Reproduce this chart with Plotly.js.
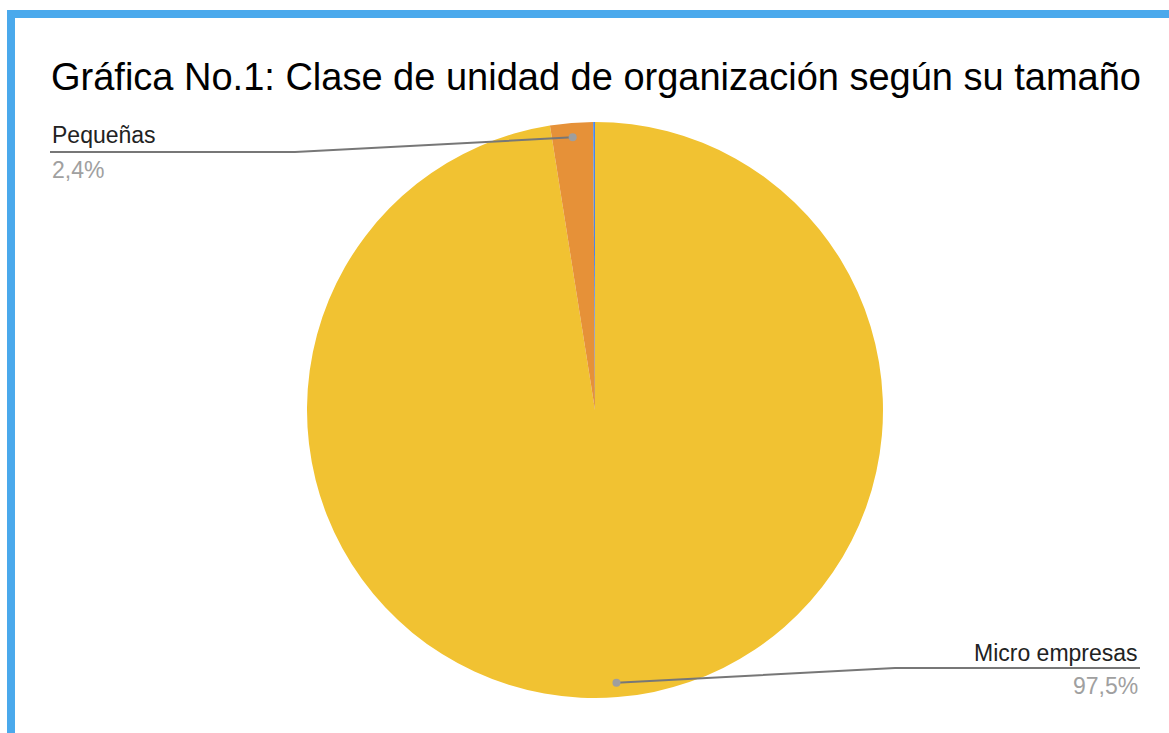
<!DOCTYPE html>
<html>
<head>
<meta charset="utf-8">
<script src="https://cdn.plot.ly/plotly-3.0.1.min.js"></script>
<style>
  html, body { margin: 0; padding: 0; background: #fff; }
  #wrap { position: relative; width: 1169px; height: 733px; overflow: hidden; }
  #chart { position: absolute; left: 0; top: 0; width: 1169px; height: 733px; }
  #frame { position: absolute; left: 7px; top: 10px; width: 1200px; height: 800px;
           border-top: 8px solid #4aa9ec; border-left: 8px solid #4aa9ec; pointer-events: none; }
</style>
</head>
<body>
<div id="wrap">
  <div id="chart"></div>
  <div id="frame"></div>
</div>
<script>
// ---- data ----
const categories = ["Micro empresas", "Pequeñas", "Medianas"];
const values = [97.5, 2.4, 0.1];
const percentLabels = ["97,5%", "2,4%", ""];
const sliceColors = ["#f1c232", "#e69138", "#4a86e8"];
const titleText = "Gráfica No.1: Clase de unidad de organización según su tamaño";

// ---- layout helpers ----
const W = 1169, H = 733;
const cx = 595, cy = 410, R = 288;
const px = x => x / W;
const py = y => 1 - y / H;

// label placement (layout only)
const labelSpec = {
  "Pequeñas": { side: "left", x: 50, yText: 135, yLine: 152, yPct: 170, elbow: 295 },
  "Micro empresas": { side: "right", x: 1140, yText: 653, yLine: 668, yPct: 686, elbow: 895 }
};

const total = values.reduce((a, b) => a + b, 0);
let cum = 0;
const annotations = [];
const shapes = [];
categories.forEach((cat, i) => {
  const frac = values[i] / total;
  const mid = (cum + frac / 2) * 2 * Math.PI; // clockwise from 12 o'clock
  cum += frac;
  const spec = labelSpec[cat];
  if (!spec) return;
  const dx = cx + 0.95 * R * Math.sin(mid);
  const dy = cy - 0.95 * R * Math.cos(mid);
  const anchor = spec.side === "left" ? "left" : "right";
  annotations.push({
    xref: "paper", yref: "paper", x: px(spec.x), y: py(spec.yText),
    xanchor: anchor, yanchor: "middle", showarrow: false,
    text: cat, font: { family: "Liberation Sans, Arial, sans-serif", size: 23, color: "#222222" }
  });
  annotations.push({
    xref: "paper", yref: "paper", x: px(spec.x), y: py(spec.yPct),
    xanchor: anchor, yanchor: "middle", showarrow: false,
    text: percentLabels[i], font: { family: "Liberation Sans, Arial, sans-serif", size: 23, color: "#a0a0a0" }
  });
  shapes.push({
    type: "path", xref: "paper", yref: "paper",
    path: `M ${px(spec.x)} ${py(spec.yLine)} L ${px(spec.elbow)} ${py(spec.yLine)} L ${px(dx)} ${py(dy)}`,
    line: { color: "#777777", width: 2 }
  });
  shapes.push({
    type: "circle", xref: "paper", yref: "paper",
    x0: px(dx - 4), x1: px(dx + 4), y0: py(dy + 4), y1: py(dy - 4),
    fillcolor: "#9e9e9e", line: { width: 0 }
  });
});

const trace = {
  type: "pie",
  labels: categories,
  values: values,
  sort: false,
  direction: "clockwise",
  rotation: 0,
  textinfo: "none",
  hoverinfo: "label+percent",
  marker: { colors: sliceColors, line: { width: 0 } },
  domain: { x: [px(cx - R), px(cx + R)], y: [py(cy + R), py(cy - R)] },
  showlegend: false
};

const layout = {
  width: W, height: H,
  margin: { l: 0, r: 0, t: 0, b: 0 },
  paper_bgcolor: "#ffffff",
  showlegend: false,
  title: {
    text: titleText,
    x: px(596), xanchor: "center",
    y: 1 - 77 / H, yanchor: "middle", yref: "container",
    font: { family: "Liberation Sans, Arial, sans-serif", size: 38, color: "#000000" }
  },
  annotations: annotations,
  shapes: shapes
};

Plotly.newPlot("chart", [trace], layout, { displayModeBar: false, staticPlot: true });
</script>
</body>
</html>
